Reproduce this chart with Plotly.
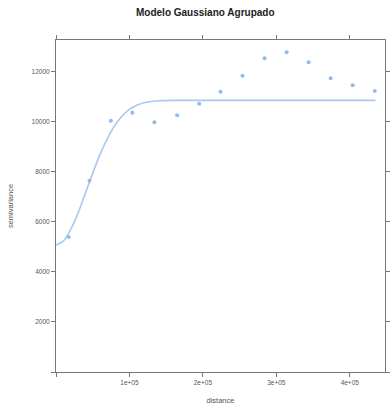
import plotly.graph_objects as go

lag_dist = [1.74e4, 4.56e4, 7.47e4, 1.04e5, 1.34e5, 1.65e5, 1.95e5, 2.24e5,
            2.54e5, 2.84e5, 3.14e5, 3.44e5, 3.74e5, 4.04e5, 4.34e5]
semivar = [5400, 7640, 10040, 10360, 9980, 10260, 10720, 11200,
           11840, 12540, 12780, 12380, 11740, 11460, 11230]

# Fitted Gaussian model curve
model_dist = [0, 1e4, 2e4, 3e4, 4e4, 5e4, 6e4, 7e4, 8e4, 9e4, 1.0e5,
              1.1e5, 1.2e5, 1.3e5, 1.4e5, 1.6e5, 2.5e5, 4.35e5]
model_gamma = [5070, 5230, 5700, 6350, 7150, 7950, 8700, 9330, 9850, 10230,
               10500, 10660, 10760, 10810, 10840, 10856, 10856, 10856]

x_tickvals = [0, 1e5, 2e5, 3e5, 4e5]
x_ticktext = ["", "1e+05", "2e+05", "3e+05", "4e+05"]
y_tickvals = [0, 2000, 4000, 6000, 8000, 10000, 12000]
y_ticktext = ["", "2000", "4000", "6000", "8000", "10000", "12000"]

W, H = 392, 407
L, R, T, B = 56, 2, 40, 35

fig = go.Figure()
fig.add_trace(go.Scatter(x=model_dist, y=model_gamma, mode="lines",
                         line=dict(color="#a9c9f0", width=1.6, shape="spline", smoothing=0.6),
                         hoverinfo="skip", showlegend=False))
fig.add_trace(go.Scatter(x=lag_dist, y=semivar, mode="markers",
                         marker=dict(color="#94b9ec", size=4, symbol="circle"),
                         showlegend=False))

axis_common = dict(showgrid=False, zeroline=False, showline=True, linecolor="#777777",
                   linewidth=1, mirror="allticks", ticks="outside", ticklen=4,
                   tickcolor="#777777", tickfont=dict(family="Liberation Sans", size=6.5, color="#555555"))

fig.update_xaxes(range=[0, 4.48e5], tickvals=x_tickvals, ticktext=x_ticktext,
                 title=dict(text="distance", font=dict(family="Liberation Sans", size=7.5, color="#555555"),
                            standoff=12), **axis_common)
fig.update_yaxes(range=[0, 13270], tickvals=y_tickvals, ticktext=y_ticktext,
                 title=dict(text="semivariance", font=dict(family="Liberation Sans", size=7.5, color="#555555"),
                            standoff=16), **axis_common)

fig.update_layout(
    width=W, height=H,
    margin=dict(l=L, r=R, t=T, b=B, pad=0),
    plot_bgcolor="white", paper_bgcolor="white",
    annotations=[dict(text="<b>Modelo Gaussiano Agrupado</b>", xref="paper", yref="paper",
                      x=(208 - L) / (W - L - R), y=1 + (T - 12) / (H - T - B),
                      xanchor="center", yanchor="middle", showarrow=False,
                      font=dict(family="Liberation Sans", size=10, color="#222222"))],
)

fig.write_html("out.html")
